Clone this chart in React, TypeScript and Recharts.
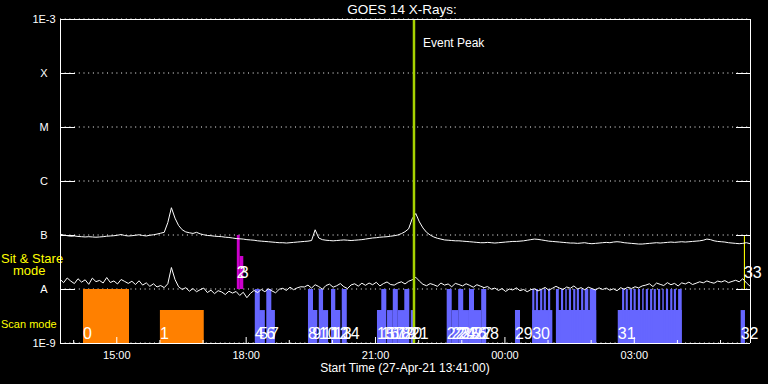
import React from 'react';
import {
  ComposedChart,
  Line,
  XAxis,
  YAxis,
  CartesianGrid,
  ReferenceArea,
  ReferenceLine,
  Scatter,
} from 'recharts';

// ---------- text ----------
const TITLE = 'GOES 14 X-Rays:';
const X_LABEL = 'Start Time (27-Apr-21 13:41:00)';
const EVENT_LABEL = 'Event Peak';

// ---------- time axis (minutes after 13:41 UT) ----------
const TIME_DOMAIN = [0, 960];
const hourTicks = [19, 79, 139, 199, 259, 319, 379, 439, 499, 559, 619, 679, 739, 799, 859, 919];
const labelTicks = [79, 259, 439, 619, 799];
const labelTickTexts = ['15:00', '18:00', '21:00', '00:00', '03:00'];

// ---------- flux axis (W/m^2, log) ----------
const fluxTicks = [1e-9, 1e-8, 1e-7, 1e-6, 1e-5, 1e-4, 1e-3];
const fluxTickLabels = ['1E-9', 'A', 'B', 'C', 'M', 'X', '1E-3'];

const EVENT_PEAK_MIN = 492.5;

// ---------- GOES fluxes, one sample every 5 minutes, in units of 1e-9 W/m^2 ----------
const SAMPLE_STEP_MIN = 5;

// 0.5-4 A channel (lower curve)
const shortFlux = [
  15.2, 13.1, 16.0, 14.0, 12.6, 15.5, 13.4, 14.8, 12.2, 15.9, 13.7, 14.4, 12.9, 16.3, 13.2, 14.1, 12.4, 15.0, 13.8, 12.7,
  13.9, 12.1, 14.2, 11.8, 13.0, 11.2, 12.5, 10.9, 11.6, 10.6,
  12.5, 25.0, 15.0, 11.0,
  9.8, 10.6, 9.1, 10.2, 8.9, 9.7, 10.4,
  8.6, 9.5, 8.2, 9.3, 8.8, 7.9, 9.1, 8.4, 9.0, 7.6, 8.7, 6.9,
  8.3, 9.4, 8.6, 9.8, 8.9, 10.1, 9.2, 8.5, 9.9, 10.3, 9.4, 10.8, 9.7, 10.5, 11.0,
  10.9, 11.8, 10.4, 12.0, 11.1, 9.9, 11.6, 12.3, 10.8, 11.5, 12.6, 11.0, 10.2, 11.9, 12.5, 11.3, 12.8,
  11.7, 12.9, 12.0, 13.3, 11.4, 12.6, 13.5, 12.1, 11.8, 12.9, 13.6, 12.4, 13.9,
  14.8, 16.5, 14.0, 12.2,
  11.5, 12.6, 12.0, 11.2, 12.9, 11.8, 12.4, 11.0, 12.7, 12.1, 11.4, 12.5, 11.7, 10.8, 12.0, 11.3,
  10.6, 11.1, 9.9, 10.4, 9.4, 10.2, 9.0, 10.0, 9.6, 10.5, 9.3, 9.8, 8.9, 9.7, 10.1, 9.2, 9.9, 10.7, 9.5, 10.3,
  11.2, 10.4, 9.8, 10.9, 10.3, 11.4, 10.0, 10.6, 9.7, 10.8, 10.2, 9.6, 10.5,
  9.8, 10.4, 9.5, 10.1, 9.3, 10.6, 9.9, 10.8, 10.2, 11.0, 10.5, 11.4,
  11.8, 12.5, 11.1, 12.9, 12.2, 11.6, 13.1, 12.0, 12.7, 11.4, 13.0, 12.4, 13.4, 12.1, 12.8, 13.6,
  13.0, 14.1, 13.3, 12.8, 14.0, 13.5, 14.3, 13.1, 13.8, 14.5, 13.6,
  15.5, 13.0, 11.3,
];

// 1-8 A channel (upper curve)
const longFlux = [
  104, 100, 97, 95, 96,
  94, 93, 92, 93, 92, 91,
  92, 93, 95, 96, 97, 99, 102, 98, 96,
  97, 99, 101, 98, 96, 99,
  101, 104, 108, 112,
  170, 320, 205, 150, 125, 114, 110, 107, 112, 105,
  101, 98, 97, 95, 94, 93, 91, 90, 88, 86, 85, 84, 82,
  81, 80, 78, 77, 76, 75, 74, 73, 72, 72, 71, 72, 73, 74, 75,
  76, 77, 79,
  125, 88, 82,
  80, 79, 78, 79, 80, 81, 80, 79, 80, 81, 82, 84, 86,
  88, 89, 91, 92, 93, 95, 97,
  100, 106, 115, 130, 200, 250, 175, 135, 112, 100, 92, 87, 84,
  81, 80, 79, 78, 78, 77, 76, 75, 74, 73, 72,
  72, 73, 72, 71, 72, 73, 74, 75, 76, 76,
  77, 78, 80, 82, 84, 83, 81, 79, 77, 76,
  75, 74, 73, 72, 71, 71, 70, 71, 72, 70, 69, 70, 71,
  72, 73, 72, 74, 75, 74, 72, 71, 70, 69, 68, 68,
  69, 70, 71, 72, 71, 72, 73, 74, 73, 74, 75, 74, 75, 76, 77, 78,
  80, 84, 82, 78, 76, 75, 74, 72, 71, 70, 69,
  70, 72, 69,
];

// ---------- observations (minutes after start; level = fraction of the mode band) ----------
// cls: 'O' = first pair of scans, 'B' = later scans
const scanObs = [
  { id: '0', start: 32, end: 96, level: 1, cls: 'O' },
  { id: '1', start: 139, end: 200, level: 0.61, cls: 'O' },
  { id: '4', start: 271, end: 278, level: 1, cls: 'B' },
  { id: '5', start: 277, end: 285, level: 0.61, cls: 'B' },
  { id: '6', start: 287, end: 294, level: 1, cls: 'B' },
  { id: '7', start: 292, end: 299, level: 0.61, cls: 'B' },
  { id: '8', start: 345, end: 352, level: 1, cls: 'B' },
  { id: '9', start: 351, end: 358, level: 0.61, cls: 'B' },
  { id: '10', start: 360, end: 366, level: 1, cls: 'B' },
  { id: '11', start: 365, end: 373, level: 0.61, cls: 'B' },
  { id: '12', start: 377, end: 383, level: 1, cls: 'B' },
  { id: '13', start: 381, end: 390, level: 0.61, cls: 'B' },
  { id: '14', start: 392, end: 399, level: 1, cls: 'B' },
  { id: '15', start: 441, end: 448, level: 0.61, cls: 'B' },
  { id: '16', start: 447, end: 454, level: 1, cls: 'B' },
  { id: '17', start: 455, end: 463, level: 0.61, cls: 'B' },
  { id: '18', start: 463, end: 470, level: 1, cls: 'B' },
  { id: '19', start: 470, end: 480, level: 0.61, cls: 'B' },
  { id: '20', start: 479, end: 486, level: 1, cls: 'B' },
  { id: '21', start: 488, end: 494, level: 0.61, cls: 'B' },
  { id: '22', start: 538, end: 545, level: 1, cls: 'B' },
  { id: '23', start: 545, end: 554, level: 0.61, cls: 'B' },
  { id: '24', start: 554, end: 561, level: 1, cls: 'B' },
  { id: '25', start: 559, end: 569, level: 0.61, cls: 'B' },
  { id: '26', start: 569, end: 576, level: 1, cls: 'B' },
  { id: '27', start: 576, end: 586, level: 0.61, cls: 'B' },
  { id: '28', start: 586, end: 593, level: 1, cls: 'B' },
  { id: '29', start: 633, end: 640, level: 0.61, cls: 'B' },
  { id: '30', start: 657, end: 685, level: 0.61, cls: 'B' },
  { id: '', start: 690, end: 746, level: 0.61, cls: 'B' },
  { id: '31', start: 776, end: 865, level: 0.61, cls: 'B' },
  { id: '32', start: 947, end: 953, level: 0.61, cls: 'B' },
];

// short full-height exposures inside the long scans
const scanExposures = [
  [657, 660], [662, 665], [668, 671], [673, 676], [679, 682],
  [690, 694], [697, 700], [703, 705], [708, 711], [714, 717], [719, 722], [725, 728], [730, 735], [737, 746],
  [782, 785], [787, 790], [793, 796], [798, 801], [804, 807], [810, 812], [815, 818], [821, 824],
  [826, 829], [832, 835], [838, 840], [843, 846], [849, 852], [854, 857], [860, 865],
];

// sit & stare observations: cls 'M' = magenta, 'Y' = yellow
const sitStareObs = [
  { id: '2', start: 246, end: 250, level: 1, cls: 'M' },
  { id: '3', start: 250, end: 255, level: 0.61, cls: 'M' },
  { id: '33', start: 951.5, end: 953, level: 1, cls: 'Y' },
];

// ---------- styles ----------
const FONT = '"Liberation Sans", Arial, sans-serif';
const WHITE = '#ffffff';
const YELLOW = '#ffff00';
const CLS_COLOR: Record<string, string> = {
  O: '#ff8000',
  B: '#6666ff',
  M: '#cc00cc',
  Y: '#ffff00',
};

const BottomTick = (props: any) => {
  const { x, y, payload } = props;
  const idx = labelTicks.indexOf(payload.value);
  const major = idx >= 0;
  return (
    <g>
      <line x1={x} x2={x} y1={y} y2={y - (major ? 6 : 3)} stroke={WHITE} />
      {major && (
        <text x={x} y={y + 16} textAnchor="middle" fill={WHITE} fontSize={11} fontFamily={FONT}>
          {labelTickTexts[idx]}
        </text>
      )}
    </g>
  );
};

const TopTick = (props: any) => {
  const { x, y, payload } = props;
  const major = labelTicks.indexOf(payload.value) >= 0;
  return <line x1={x} x2={x} y1={y} y2={y + (major ? 6 : 3)} stroke={WHITE} />;
};

const LeftTick = (props: any) => {
  const { x, y, payload } = props;
  const idx = fluxTicks.findIndex((v) => Math.abs(Math.log10(v) - Math.log10(payload.value)) < 1e-6);
  return (
    <g>
      <line x1={x} x2={x + 15} y1={y} y2={y} stroke={WHITE} shapeRendering="crispEdges" />
      <text x={x - 16} y={y + 4} textAnchor="middle" fill={WHITE} fontSize={11} fontFamily={FONT}>
        {fluxTickLabels[idx]}
      </text>
    </g>
  );
};

const RightTick = (props: any) => {
  const { x, y } = props;
  return <line x1={x} x2={x - 14} y1={y} y2={y} stroke={WHITE} shapeRendering="crispEdges" />;
};

const ObsLabel = (props: any) => {
  const { cx, cy, payload } = props;
  const off = payload.mode === 'scan' ? -4 : -11;
  return (
    <text x={cx} y={cy + off} fill={WHITE} fontSize={16} fontFamily={FONT}>
      {payload.id}
    </text>
  );
};

export default function App() {
  const shortData = shortFlux.map((v, i) => ({ t: i * SAMPLE_STEP_MIN, v: v * 1e-9 }));
  const longData = longFlux.map((v, i) => ({ t: i * SAMPLE_STEP_MIN, v: v * 1e-9 }));
  const labelData = [
    ...scanObs.filter((o) => o.id !== '').map((o) => ({ t: o.start, b: 0, id: o.id, mode: 'scan' })),
    ...sitStareObs.map((o) => ({ t: o.start, b: 1, id: o.id, mode: 'ss' })),
  ];

  return (
    <div style={{ position: 'absolute', left: 0, top: 0, width: 768, height: 384, background: '#000', overflow: 'hidden' }}>
      <ComposedChart width={768} height={384} margin={{ top: 18, right: 0, bottom: 0, left: 0 }}>
        <XAxis
          xAxisId={0}
          dataKey="t"
          type="number"
          domain={TIME_DOMAIN}
          ticks={hourTicks}
          interval={0}
          height={41}
          tickSize={0}
          tickMargin={0}
          tickLine={false}
          axisLine={{ stroke: WHITE, shapeRendering: 'crispEdges' }}
          tick={<BottomTick />}
        />
        <XAxis
          xAxisId="top"
          orientation="top"
          dataKey="t"
          type="number"
          domain={TIME_DOMAIN}
          ticks={hourTicks}
          interval={0}
          height={1}
          tickSize={0}
          tickMargin={0}
          tickLine={false}
          axisLine={{ stroke: WHITE, shapeRendering: 'crispEdges' }}
          tick={<TopTick />}
        />
        <YAxis
          yAxisId={0}
          type="number"
          scale="log"
          domain={[1e-9, 1e-3]}
          allowDataOverflow
          ticks={fluxTicks}
          interval={0}
          width={60}
          tickSize={0}
          tickMargin={0}
          tickLine={false}
          axisLine={{ stroke: WHITE, shapeRendering: 'crispEdges' }}
          tick={<LeftTick />}
        />
        <YAxis
          yAxisId="right"
          orientation="right"
          type="number"
          scale="log"
          domain={[1e-9, 1e-3]}
          allowDataOverflow
          ticks={fluxTicks}
          interval={0}
          width={18}
          tickSize={0}
          tickMargin={0}
          tickLine={false}
          axisLine={{ stroke: WHITE, shapeRendering: 'crispEdges' }}
          tick={<RightTick />}
        />
        <YAxis yAxisId="band" type="number" domain={[0, 6]} hide />

        <CartesianGrid
          xAxisId={0}
          yAxisId={0}
          vertical={false}
          stroke={WHITE}
          strokeDasharray="1 3.7"
        />

        {scanObs.map((o, i) => (
          <ReferenceArea
            key={`s${i}`}
            xAxisId={0}
            yAxisId="band"
            x1={o.start}
            x2={o.end}
            y1={0}
            y2={o.level}
            fill={CLS_COLOR[o.cls]}
            fillOpacity={1}
            stroke="none"
            ifOverflow="visible"
          />
        ))}
        {scanExposures.map((e, i) => (
          <ReferenceArea
            key={`e${i}`}
            xAxisId={0}
            yAxisId="band"
            x1={e[0]}
            x2={e[1]}
            y1={0}
            y2={1}
            fill={CLS_COLOR.B}
            fillOpacity={1}
            stroke="none"
            ifOverflow="visible"
          />
        ))}
        {sitStareObs.map((o, i) => (
          <ReferenceArea
            key={`m${i}`}
            xAxisId={0}
            yAxisId="band"
            x1={o.start}
            x2={o.end}
            y1={1}
            y2={1 + o.level}
            fill={CLS_COLOR[o.cls]}
            fillOpacity={1}
            stroke="none"
            ifOverflow="visible"
          />
        ))}

        <Line
          data={longData}
          dataKey="v"
          xAxisId={0}
          yAxisId={0}
          stroke={WHITE}
          strokeWidth={1}
          dot={false}
          type="linear"
          isAnimationActive={false}
        />
        <Line
          data={shortData}
          dataKey="v"
          xAxisId={0}
          yAxisId={0}
          stroke={WHITE}
          strokeWidth={1}
          dot={false}
          type="linear"
          isAnimationActive={false}
        />

        <ReferenceLine
          xAxisId={0}
          yAxisId={0}
          x={EVENT_PEAK_MIN}
          stroke="#a6d300"
          strokeWidth={2.5}
          label={(p: any) => (
            <text x={p.viewBox.x + 9} y={p.viewBox.y + 28} fill={WHITE} fontSize={12} fontFamily={FONT}>
              {EVENT_LABEL}
            </text>
          )}
        />

        <Scatter
          data={labelData}
          dataKey="b"
          xAxisId={0}
          yAxisId="band"
          isAnimationActive={false}
          shape={<ObsLabel />}
        />

        <text x={402} y={14} textAnchor="middle" fill={WHITE} fontSize={13.5} fontFamily={FONT}>
          {TITLE}
        </text>
        <text x={405} y={372} textAnchor="middle" fill={WHITE} fontSize={12} fontFamily={FONT}>
          {X_LABEL}
        </text>
        <text x={1} y={263} fill={YELLOW} fontSize={13} fontFamily={FONT}>
          Sit &amp; Stare
        </text>
        <text x={13} y={275} fill={YELLOW} fontSize={13} fontFamily={FONT}>
          mode
        </text>
        <text x={1} y={328} fill={YELLOW} fontSize={11} fontFamily={FONT}>
          Scan mode
        </text>
      </ComposedChart>
    </div>
  );
}
